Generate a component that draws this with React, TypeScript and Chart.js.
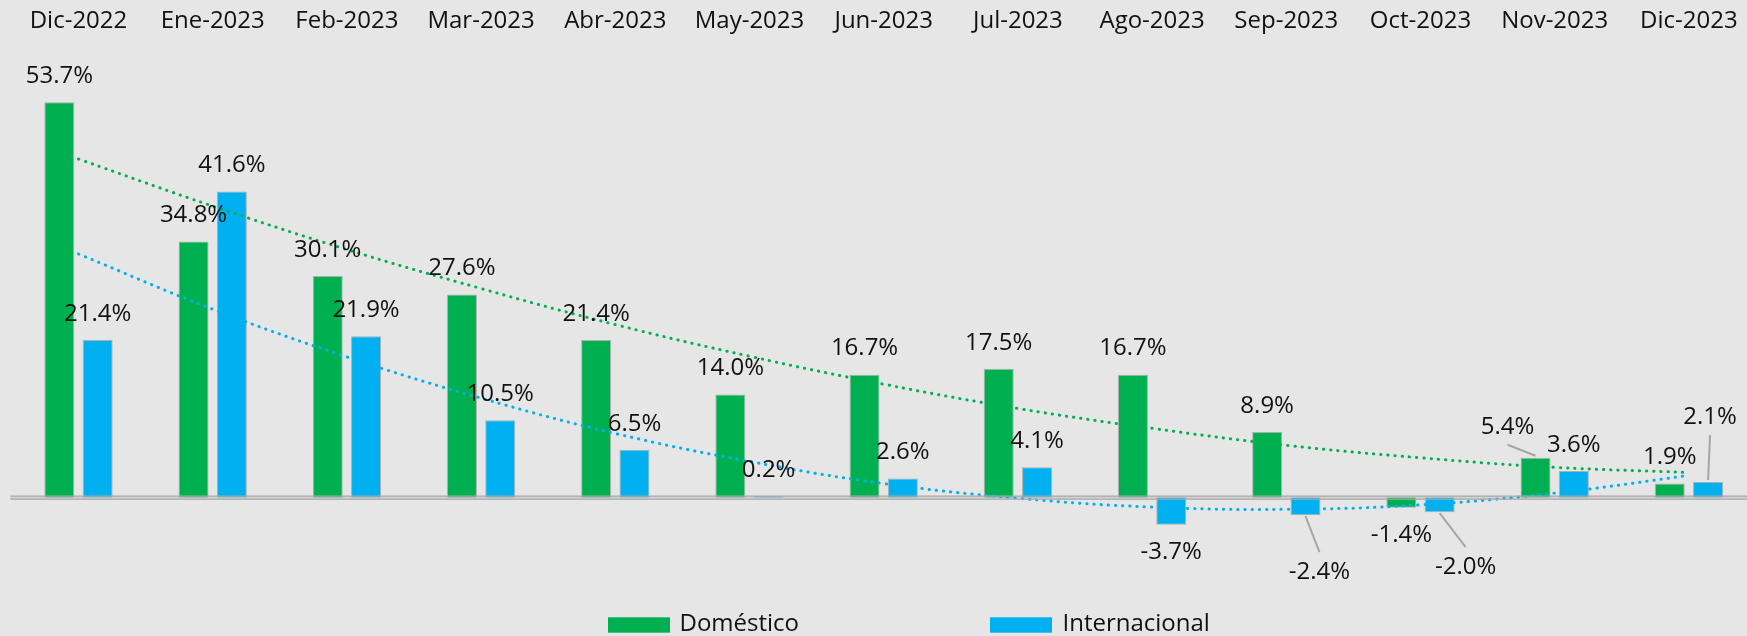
import React, { useEffect, useRef } from "react";
import { Chart, registerables } from "chart.js";

Chart.register(...registerables);

const categories = [
  "Dic-2022", "Ene-2023", "Feb-2023", "Mar-2023", "Abr-2023", "May-2023", "Jun-2023",
  "Jul-2023", "Ago-2023", "Sep-2023", "Oct-2023", "Nov-2023", "Dic-2023",
];
const domestico = [53.7, 34.8, 30.1, 27.6, 21.4, 14.0, 16.7, 17.5, 16.7, 8.9, -1.4, 5.4, 1.9];
const internacional = [21.4, 41.6, 21.9, 10.5, 6.5, 0.2, 2.6, 4.1, -3.7, -2.4, -2.0, 3.6, 2.1];
// dotted trend lines, read at each month
const tendenciaDomestico = [46.0, 39.6, 33.7, 28.4, 23.5, 19.2, 15.4, 12.1, 9.4, 7.1, 5.4, 4.1, 3.4];
const tendenciaInternacional = [33.1, 25.6, 19.1, 13.5, 8.7, 4.9, 1.9, -0.1, -1.3, -1.6, -1.0, 0.6, 3.0];
const seriesNames = ["Doméstico", "Internacional"];

const GREEN = "#00B050";
const BLUE = "#00B0F0";
const TEXT = "#111111";
const FONT = "'Open Sans', 'Noto Sans', sans-serif";

// label nudges (dx, dy in px) for labels that were moved, with leader lines
const labelShift: Record<number, Record<number, [number, number]>> = {
  0: { 11: [-28, -5] },
  1: { 9: [14, 30], 10: [26, 28], 12: [2, -39] },
};

const axisPlugin = {
  id: "axisPlugin",
  beforeDatasetsDraw(chart: any) {
    const ctx = chart.ctx as CanvasRenderingContext2D;
    const y0 = chart.scales.y.getPixelForValue(0);
    const left = chart.chartArea.left - 1;
    ctx.save();
    ctx.fillStyle = "#d2d2d2";
    ctx.fillRect(left, y0 - 1.6, chart.width - left, 3.4);
    ctx.restore();
  },
};

const labelsPlugin = {
  id: "labelsPlugin",
  afterDatasetsDraw(chart: any) {
    const ctx = chart.ctx as CanvasRenderingContext2D;
    const y0 = chart.scales.y.getPixelForValue(0);
    const left = chart.chartArea.left - 1;
    ctx.save();
    // horizontal axis line at zero (double thin rule)
    ctx.strokeStyle = "#a9a9a9";
    ctx.lineWidth = 1.2;
    ctx.beginPath();
    ctx.moveTo(left, y0 - 1.4);
    ctx.lineTo(chart.width, y0 - 1.4);
    ctx.moveTo(left, y0 + 1.7);
    ctx.lineTo(chart.width, y0 + 1.7);
    ctx.stroke();

    ctx.font = `24px ${FONT}`;
    ctx.fillStyle = TEXT;
    ctx.textAlign = "center";
    ctx.textBaseline = "middle";
    [0, 1].forEach((di) => {
      const meta = chart.getDatasetMeta(di);
      const values = chart.data.datasets[di].data as number[];
      meta.data.forEach((bar: any, i: number) => {
        const v = values[i];
        const shift = labelShift[di][i];
        const dx = shift ? shift[0] : 0;
        const dy = shift ? shift[1] : 0;
        const lx = bar.x + dx;
        const ly = v >= 0 ? bar.y - 26 + dy : bar.y + 27 + dy;
        if (shift) {
          ctx.strokeStyle = "#a6a6a6";
          ctx.lineWidth = 2;
          ctx.lineCap = "butt";
          ctx.beginPath();
          if (v >= 0) {
            ctx.moveTo(lx, ly + 18);
            ctx.lineTo(bar.x, bar.y - 2);
          } else {
            ctx.moveTo(bar.x, bar.y + 1);
            ctx.lineTo(lx, ly - 20);
          }
          ctx.stroke();
        }
        ctx.fillText(v.toFixed(1) + "%", lx, ly);
      });
    });

    // legend
    const items = [
      { color: GREEN, box: 608, text: 679.5, label: seriesNames[0] },
      { color: BLUE, box: 990, text: 1062.5, label: seriesNames[1] },
    ];
    ctx.textAlign = "left";
    items.forEach((it) => {
      ctx.fillStyle = it.color;
      ctx.fillRect(it.box, 617.3, 62, 15.4);
      ctx.fillStyle = TEXT;
      ctx.fillText(it.label, it.text, 624.5);
    });
    ctx.restore();
  },
};

export default function App() {
  const ref = useRef<HTMLCanvasElement>(null);
  useEffect(() => {
    const chart = new Chart(ref.current as HTMLCanvasElement, {
      type: "bar",
      data: {
        labels: categories,
        datasets: [
          {
            type: "bar",
            label: seriesNames[0],
            data: domestico,
            backgroundColor: GREEN,
            borderColor: "rgba(150,150,150,0.7)",
            borderWidth: 1,
            categoryPercentage: 0.571,
            barPercentage: 0.783,
            order: 2,
          },
          {
            type: "bar",
            label: seriesNames[1],
            data: internacional,
            backgroundColor: BLUE,
            borderColor: "rgba(150,150,150,0.7)",
            borderWidth: 1,
            categoryPercentage: 0.571,
            barPercentage: 0.783,
            order: 2,
          },
          {
            type: "line",
            label: "Tendencia Doméstico",
            data: tendenciaDomestico,
            borderColor: GREEN,
            borderWidth: 3,
            borderDash: [0.3, 6.9],
            borderCapStyle: "round",
            pointRadius: 0,
            tension: 0.4,
            fill: false,
            order: 0,
          },
          {
            type: "line",
            label: "Tendencia Internacional",
            data: tendenciaInternacional,
            borderColor: BLUE,
            borderWidth: 3,
            borderDash: [0.3, 6.9],
            borderCapStyle: "round",
            pointRadius: 0,
            tension: 0.4,
            fill: false,
            order: 0,
          },
        ] as any,
      },
      options: {
        responsive: false,
        animation: false,
        devicePixelRatio: 1,
        layout: { padding: { top: 6, left: 11.4, right: 6, bottom: 64.9 } },
        plugins: { legend: { display: false }, tooltip: { enabled: false } },
        scales: {
          x: {
            position: "top",
            offset: true,
            grid: { display: false, drawTicks: false },
            border: { display: false },
            ticks: {
              font: { family: FONT, size: 24 },
              color: TEXT,
              padding: 20,
              maxRotation: 0,
              autoSkip: false,
            },
            afterFit: (s: any) => {
              s.height = 50;
            },
          },
          y: { display: false, min: -10, max: 60 },
        },
      } as any,
      plugins: [axisPlugin, labelsPlugin],
    });
    return () => chart.destroy();
  }, []);
  return (
    <div
      style={{
        position: "fixed",
        left: 0,
        top: 0,
        width: 1747,
        height: 636,
        overflow: "hidden",
        background: "#e7e6e6",
      }}
    >
      <canvas ref={ref} width={1762} height={636} style={{ display: "block", width: 1762, height: 636 }} />
    </div>
  );
}
